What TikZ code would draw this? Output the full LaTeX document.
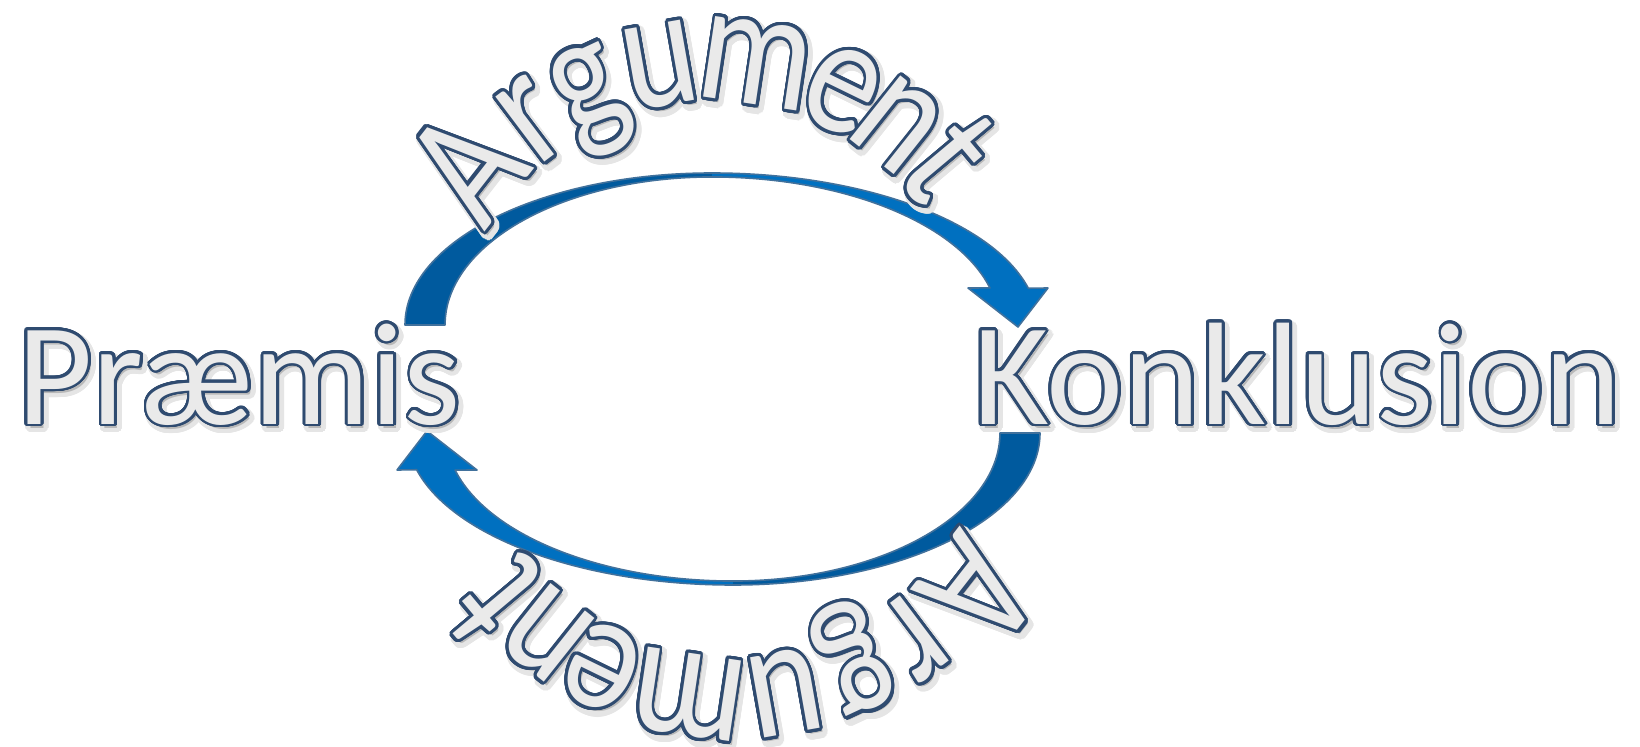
\documentclass[tikz,border=0pt]{standalone}
\usepackage{fontspec}
\setmainfont{Carlito}
\usepackage{contour}
\usetikzlibrary{calc}
\contournumber{32}
\definecolor{arrowdark}{RGB}{0,90,158}
\definecolor{arrowlight}{RGB}{0,112,192}
\definecolor{arrowedge}{RGB}{65,113,156}
\definecolor{wordfill}{RGB}{234,234,234}
\definecolor{wordline}{RGB}{47,75,112}
\newcommand{\wordart}[1]{\contourlength{1.4pt}\contour{wordline}{#1}}
\newcommand{\wordshadow}[1]{\contourlength{2.4pt}\contour{black!10}{\textcolor{black!28}{#1}}}
\tikzset{
  bigword/.style={font=\fontsize{73}{73}\selectfont, text=wordfill, inner sep=0pt, anchor=base west},
  bowletter/.style={font=\fontsize{71}{71}\selectfont, text=wordfill, inner sep=0pt, anchor=base, yscale=1.2},
  bowedge/.style={draw=arrowedge, line width=0.8pt, line join=round}
}
\begin{document}
\begin{tikzpicture}[x=0.5pt, y=0.5pt]
  \useasboundingbox (0,0) rectangle (1640,746);
  % the two bows, the lower one turned half round
  \foreach \rot/\sx/\sy in {0/3/-4, 180/-3/4}{
    \begin{scope}[rotate around={\rot:(722.5,367)}]
      \coordinate (bowc) at (712,388);
      \fill[arrowdark] (405,421) arc[start angle=180, end angle=90, x radius=307, y radius=152]
        -- (712,569) arc[start angle=90, end angle=180, x radius=267, y radius=148] -- cycle;
      \fill[arrowlight] (712,573) arc[start angle=90, end angle=14, x radius=326, y radius=152]
        -- (1048,458) -- (1018,419) -- (968,458) -- (989.9,458.1)
        arc[start angle=14.5, end angle=90, x radius=287, y radius=148] -- cycle;
      \draw[bowedge] (405,421) arc[start angle=180, end angle=90, x radius=307, y radius=152]
        arc[start angle=90, end angle=14, x radius=326, y radius=152]
        -- (1048,458) -- (1018,419) -- (968,458) -- (989.9,458.1)
        arc[start angle=14.5, end angle=90, x radius=287, y radius=148]
        arc[start angle=90, end angle=180, x radius=267, y radius=148] -- cycle;
      \foreach \ch/\ang in {A/142, r/127, g/115, u/100, m/81.5, e/64, n/51.5, t/40}
        \node[rotate=\ang-90+\rot, bowletter] at ($(bowc)+(\ang:257)+(\sx,\sy)$) {\wordshadow{\ch}};
      \foreach \ch/\ang in {A/142, r/127, g/115, u/100, m/81.5, e/64, n/51.5, t/40}
        \node[rotate=\ang-90+\rot, bowletter] (arg\ch) at ($(bowc)+(\ang:257)$) {\wordart{\ch}};
    \end{scope}
  }
  % premise and conclusion
  \node[bigword] at (20,318) {\wordshadow{Præmis}};
  \node[bigword] (praemis) at (17,322) {\wordart{Præmis}};
  \node[bigword] at (976,318) {\wordshadow{Konklusion}};
  \node[bigword] (konklusion) at (973,322) {\wordart{Konklusion}};
\end{tikzpicture}
\end{document}
